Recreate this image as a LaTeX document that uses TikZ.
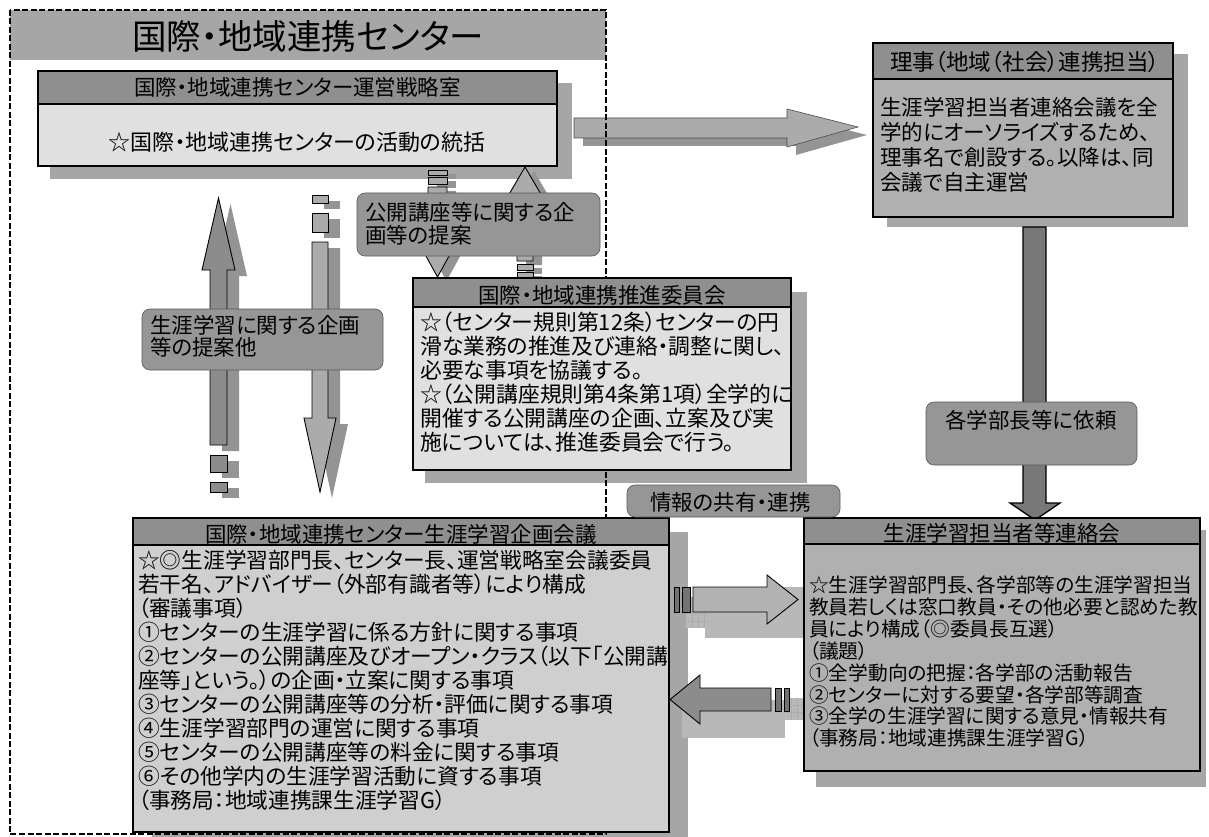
\documentclass[tikz,border=0pt]{standalone}
\usepackage{fontspec}
\setmainfont{Noto Sans CJK JP}[RawFeature=+palt]
\newcommand{\fsz}[2]{\fontsize{#1pt}{#2pt}\selectfont}
\definecolor{bandc}{gray}{0.65}
\definecolor{hdrc}{gray}{0.56}
\definecolor{lightc}{gray}{0.88}
\definecolor{midc}{gray}{0.69}
\definecolor{blc}{gray}{0.81}
\definecolor{shdc}{gray}{0.65}
\definecolor{ashdc}{gray}{0.58}
\definecolor{lblc}{gray}{0.59}
\definecolor{arrc}{gray}{0.67}
\definecolor{arrd}{gray}{0.55}
\definecolor{vertc}{gray}{0.47}
\definecolor{edgec}{gray}{0.35}
\definecolor{stripec}{gray}{0.45}
\definecolor{flatshd}{gray}{0.72}
\tikzset{
  boxframe/.style={draw=black, line width=1.1pt},
  bshadow/.style={fill=shdc, draw=none},
  ashadow/.style={fill=ashdc, draw=none},
  blockarrow/.style={draw=black, line width=0.9pt},
  labelbox/.style={fill=lblc, draw=edgec, line width=0.6pt, rounded corners=8pt},
  ctext/.style={inner sep=0pt, anchor=base, font=\fsz{21.5}{24}},
  btext/.style={inner sep=0pt, anchor=base west, align=left},
  gridln/.style={draw=gray!65, line width=0.4pt},
}
\begin{document}
\begin{tikzpicture}[x=1pt,y=-1pt]
\useasboundingbox (0,0) rectangle (1209,837);
\fill[white] (0,0) rectangle (1209,837);

% title band
\fill[bandc] (10,10) rectangle (606,60);

% box shadows
\fill[bshadow] (50,83) rectangle (572,179);
\fill[bshadow] (887,54) rectangle (1188,227);
\fill[bshadow] (425,292) rectangle (807,483);
\fill[bshadow] (816,530) rectangle (1206,787);
\fill[bshadow] (152,532) rectangle (688,837);

% top arrow (to director)
\fill[ashadow, shift={(9,8)}] (574,118) -- (787,118) -- (787,109) -- (858,127) -- (787,147) -- (787,138) -- (574,138) -- cycle;
\filldraw[fill=arrc, draw=gray!60!black, line width=0.6pt] (574,118) -- (787,118) -- (787,109) -- (858,127) -- (787,147) -- (787,138) -- (574,138) -- cycle;

% left up arrow
\begin{scope}[shift={(12,6)}]
\fill[ashadow] (210,445) -- (210,270) -- (202,270) -- (218.5,198) -- (235,270) -- (227,270) -- (227,445) -- cycle;
\fill[ashadow] (210,455) rectangle (227,472);
\fill[ashadow] (210,482) rectangle (227,492);
\end{scope}
\filldraw[fill=arrd, blockarrow] (210,445) -- (210,270) -- (202,270) -- (218.5,198) -- (235,270) -- (227,270) -- (227,445) -- cycle;
\filldraw[fill=arrd, blockarrow] (210,455) rectangle (227,472);
\filldraw[fill=arrd, blockarrow] (210,482) rectangle (227,492);

% left down arrow
\begin{scope}[shift={(12,6)}]
\fill[ashadow] (312,242) -- (328,242) -- (328,418) -- (336,418) -- (320,492) -- (304,418) -- (312,418) -- cycle;
\fill[ashadow] (312,195) rectangle (328,203);
\fill[ashadow] (312,213) rectangle (328,232);
\end{scope}
\filldraw[fill=arrc, blockarrow] (312,242) -- (328,242) -- (328,418) -- (336,418) -- (320,492) -- (304,418) -- (312,418) -- cycle;
\filldraw[fill=arrc, blockarrow] (312,195) rectangle (328,203);
\filldraw[fill=arrc, blockarrow] (312,213) rectangle (328,232);

% middle down arrow
\begin{scope}[shift={(9,4)}]
\fill[ashadow] (428,187) -- (447,187) -- (447,247) -- (454,247) -- (437.5,277) -- (421,247) -- (428,247) -- cycle;
\fill[ashadow] (428,170) rectangle (447,175);
\fill[ashadow] (428,177) rectangle (447,184);
\end{scope}
\filldraw[fill=arrc, blockarrow] (428,187) -- (447,187) -- (447,247) -- (454,247) -- (437.5,277) -- (421,247) -- (428,247) -- cycle;
\filldraw[fill=arrc, blockarrow] (428,170) rectangle (447,175);
\filldraw[fill=arrc, blockarrow] (428,177) rectangle (447,184);

% middle up arrow
\begin{scope}[shift={(9,4)}]
\fill[ashadow] (517,261) -- (517,196) -- (508,196) -- (525,167) -- (542,196) -- (533,196) -- (533,261) -- cycle;
\fill[ashadow] (517,264) rectangle (533,270);
\fill[ashadow] (517,272) rectangle (533,277);
\end{scope}
\filldraw[fill=arrc, blockarrow] (517,261) -- (517,196) -- (508,196) -- (525,167) -- (542,196) -- (533,196) -- (533,261) -- cycle;
\filldraw[fill=arrc, blockarrow] (517,264) rectangle (533,270);
\filldraw[fill=arrc, blockarrow] (517,272) rectangle (533,277);

% right vertical arrow
\filldraw[fill=vertc, draw=black, line width=1.3pt] (1023,227) -- (1046,227) -- (1046,503) -- (1060,503) -- (1035,520) -- (1010,503) -- (1023,503) -- cycle;

% bottom right-pointing arrow
\fill[flatshd] (705,587) rectangle (804,638);
\fill[gray!55] (686,597) rectangle (709,628);
\foreach \gx in {692,698,704} {\draw[gridln] (\gx,597) -- (\gx,628);}
\foreach \gy in {605,613,621} {\draw[gridln] (686,\gy) -- (709,\gy);}
\filldraw[fill=stripec, blockarrow] (674,587) rectangle (679,612);
\filldraw[fill=stripec, blockarrow] (682,587) rectangle (690,612);
\filldraw[fill=gray!60, blockarrow] (693,587) -- (767,587) -- (767,575) -- (798,599.5) -- (767,624) -- (767,612) -- (693,612) -- cycle;

% bottom left-pointing arrow
\fill[flatshd] (682,700) rectangle (785,738);
\fill[gray!55] (785,698) rectangle (803,720);
\foreach \gx in {791,797} {\draw[gridln] (\gx,698) -- (\gx,720);}
\foreach \gy in {705,712} {\draw[gridln] (785,\gy) -- (803,\gy);}
\filldraw[fill=arrd, blockarrow] (771,688) -- (700,688) -- (700,675) -- (670,699.5) -- (700,724) -- (700,711) -- (771,711) -- cycle;
\filldraw[fill=stripec, blockarrow] (775,688) rectangle (781,711);
\filldraw[fill=stripec, blockarrow] (784,688) rectangle (789,711);

% dashed frame of the centre
\draw[black, line width=1.3pt, dash pattern=on 6pt off 2.5pt] (10,10) rectangle (606,834);
\node[ctext, font=\fsz{34.5}{38}] (title) at (308,49.5) {国際・地域連携センター};

% box 1: strategy office
\filldraw[fill=lightc, boxframe] (38,71) rectangle (557,166);
\filldraw[fill=hdrc, boxframe] (38,71) rectangle (557,104);
\node[ctext] (b1h) at (297.5,96) {国際・地域連携センター運営戦略室};
\node[ctext, font=\fsz{22}{24}] (b1b) at (297,151) {☆国際・地域連携センターの活動の統括};

% director box
\filldraw[fill=midc, boxframe] (873,43) rectangle (1173,217);
\filldraw[fill=hdrc, boxframe] (873,43) rectangle (1173,79);
\node[ctext, font=\fsz{22.5}{24}] (r1h) at (1025,70.5) {理事（地域（社会）連携担当）};
\node[btext, text width=290pt, font=\fsz{21.5}{25}] (r1b) at (880,116) {生涯学習担当者連絡会議を全\\学的にオーソライズするため、\\理事名で創設する。以降は、同\\会議で自主運営};

% promotion committee
\filldraw[fill=lightc, boxframe] (413,278) rectangle (791,470);
\filldraw[fill=hdrc, boxframe] (413,278) rectangle (791,307);
\node[ctext] (c1h) at (602,303) {国際・地域連携推進委員会};
\node[btext, text width=368pt, font=\fsz{21.8}{24}] (c1b) at (420,330) {☆（センター規則第12条）センターの円\\滑な業務の推進及び連絡・調整に関し、\\必要な事項を協議する。\\☆（公開講座規則第4条第1項）全学的に\\開催する公開講座の企画、立案及び実\\施については、推進委員会で行う。};

% planning meeting
\filldraw[fill=blc, boxframe] (133,518) rectangle (669,832);
\filldraw[fill=hdrc, boxframe] (133,518) rectangle (669,545);
\node[ctext] (blh) at (401,542) {国際・地域連携センター生涯学習企画会議};
\node[btext, text width=530pt, font=\fsz{21.7}{24}] (blb) at (138,568) {☆◎生涯学習部門長、センター長、運営戦略室会議委員\\若干名、アドバイザー（外部有識者等）により構成\\（審議事項）\\①センターの生涯学習に係る方針に関する事項\\②センターの公開講座及びオープン・クラス（以下「公開講\\座等」という。）の企画・立案に関する事項\\③センターの公開講座等の分析・評価に関する事項\\④生涯学習部門の運営に関する事項\\⑤センターの公開講座等の料金に関する事項\\⑥その他学内の生涯学習活動に資する事項\\（事務局：地域連携課生涯学習G）};

% liaison meeting
\filldraw[fill=midc, boxframe] (804,518) rectangle (1200,771);
\filldraw[fill=hdrc, boxframe] (804,518) rectangle (1200,544);
\node[ctext] (brh) at (1002,541) {生涯学習担当者等連絡会};
\node[btext, text width=392pt, font=\fsz{19.7}{21.9}] (brb) at (809,592.5) {☆生涯学習部門長、各学部等の生涯学習担当\\教員若しくは窓口教員・その他必要と認めた教\\員により構成（◎委員長互選）\\（議題）\\①全学動向の把握：各学部の活動報告\\②センターに対する要望・各学部等調査\\③全学の生涯学習に関する意見・情報共有\\（事務局：地域連携課生涯学習G）};

% rounded labels
\draw[labelbox] (357,193) rectangle (600,256);
\node[btext, text width=235pt, font=\fsz{21.5}{23}] (la) at (365,220) {公開講座等に関する企\\画等の提案};
\draw[labelbox] (142,309) rectangle (383,370);
\node[btext, text width=235pt, font=\fsz{21.5}{22}] (lb) at (150,333) {生涯学習に関する企画\\等の提案他};
\draw[labelbox] (926,402) rectangle (1137,465);
\node[ctext] (lc) at (1031,428) {各学部長等に依頼};
\draw[labelbox] (627,485) rectangle (840,517);
\node[ctext, anchor=base west] (ld) at (650,510) {情報の共有・連携};
\end{tikzpicture}
\end{document}
